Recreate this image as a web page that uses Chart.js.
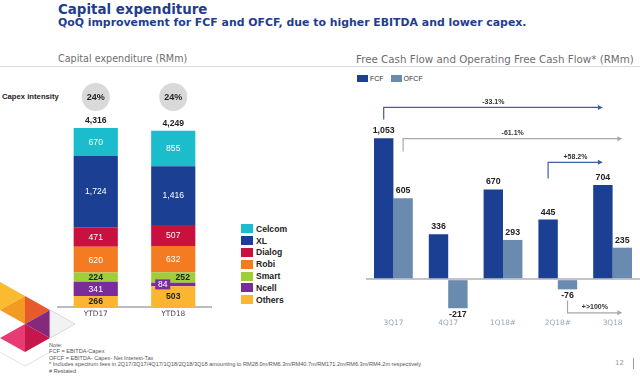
<!DOCTYPE html>
<html>
<head>
<meta charset="utf-8">
<script src="https://cdn.jsdelivr.net/npm/chart.js@4.4.0/dist/chart.umd.min.js"></script>
<style>
  body { margin: 0; width: 640px; height: 377px; position: relative; overflow: hidden; background: #fff; font-family: 'DejaVu Sans', sans-serif; }
  .abs { position: absolute; white-space: nowrap; }
  #title { left: 58px; top: 2px; font-size: 13.4px; line-height: 16px; font-weight: bold; color: #1f3d8f; }
  #subtitle { left: 58px; top: 16px; font-size: 10.9px; line-height: 13px; font-weight: bold; color: #1f3d8f; }
  .section { top: 53px; line-height: 12px; color: #6e6e6e; }
  #rule { left: 0; top: 66px; width: 640px; height: 1px; background: #d6dce4; }
  #intensityLbl { left: 2px; top: 92px; font-family: 'Liberation Sans', sans-serif; font-size: 7.7px; line-height: 10px; font-weight: bold; color: #222; }
  #capexLegend { left: 241px; top: 223px; font-family: 'Liberation Sans', sans-serif; font-size: 8.6px; font-weight: bold; color: #222; }
  #capexLegend div, #fcfLegend div { display: flex; align-items: center; }
  #capexLegend div { height: 11.8px; }
  #capexLegend span.sw { width: 12px; height: 9px; margin-right: 3px; display: inline-block; }
  #fcfLegend { left: 357px; top: 75px; font-family: 'Liberation Sans', sans-serif; font-size: 7px; color: #333; display: flex; }
  #fcfLegend span.sw { width: 11px; height: 7px; margin-right: 2px; display: inline-block; }
  #fcfLegend div { margin-right: 7px; }
  #notes { left: 49px; top: 342px; font-family: 'Liberation Sans', sans-serif; font-size: 5.6px; line-height: 6.4px; color: #555; }
  #page { left: 615px; top: 359px; font-size: 7px; color: #9a9a9a; }
  #pageBar { left: 633px; top: 358px; width: 1px; height: 11px; background: #9a9a9a; }
  canvas { position: absolute; }
</style>
</head>
<body>
<div id="title" class="abs">Capital expenditure</div>
<div id="subtitle" class="abs">QoQ improvement for FCF and OFCF, due to higher EBITDA and lower capex.</div>
<div class="abs section" style="left:58px;font-size:9.6px">Capital expenditure (RMm)</div>
<div class="abs section" style="left:356px;font-size:10.3px">Free Cash Flow and Operating Free Cash Flow* (RMm)</div>
<div id="rule" class="abs"></div>
<div id="intensityLbl" class="abs">Capex intensity</div>

<svg class="abs" style="left:0;top:255px" width="90" height="115" viewBox="0 255 90 115">
  <polygon points="0,282 25,296 0,310" fill="#fbbb31"/>
  <polygon points="0,310 25,296 25,324" fill="#f39a22"/>
  <polygon points="25,296 50,310 25,324" fill="#e65a2c"/>
  <polygon points="25,324 50,310 50,338" fill="#85297c"/>
  <polygon points="50,310 75,324 50,338" fill="#f2f2f2" stroke="#dadada" stroke-width="1"/>
  <polygon points="25,324 25,352 0,338" fill="#e83b73"/>
  <polygon points="25,324 50,338 25,352" fill="#c5174b"/>
  <polyline points="0,352 25,366 50,352" fill="none" stroke="#e2e2e2" stroke-width="1"/>
</svg>

<canvas id="capexChart" width="155" height="247" style="left:57px;top:80px"></canvas>
<div id="capexLegend" class="abs"></div>

<div id="fcfLegend" class="abs"></div>
<canvas id="fcfChart" width="274" height="243" style="left:366px;top:95px"></canvas>

<div id="notes" class="abs">Note:<br>FCF = EBITDA-Capex<br>OFCF = EBITDA- Capex- Net Interest-Tax<br>* Includes spectrum fees in 2Q17/3Q17/4Q17/1Q18/2Q18/3Q18 amounting to RM28.0m/RM6.3m/RM40.7m/RM171.2m/RM6.3m/RM4.2m respectively<br># Restated</div>
<div id="page" class="abs">12</div>
<div id="pageBar" class="abs"></div>

<script>
// Capex por opco (RMm)
const capexCats = ['YTD17', 'YTD18'];
const opcos = ['Celcom', 'XL', 'Dialog', 'Robi', 'Smart', 'Ncell', 'Others'];
const opcoColors = ['#1bbdcc', '#1b3f93', '#c8113f', '#f47b21', '#a0cd3a', '#7a2c9c', '#fbb533'];
const celcom = [670, 855];
const xl = [1724, 1416];
const dialog = [471, 507];
const robi = [620, 632];
const smart = [224, 252];
const ncell = [341, 84];
const others = [266, 503];
const capexTotal = [4316, 4249];
const capexIntensity = ['24%', '24%'];

// FCF / OFCF (RMm)
const fcfCats = ['3Q17', '4Q17', '1Q18#', '2Q18#', '3Q18'];
const fcf = [1053, 336, 670, 445, 704];
const ofcf = [605, -217, 293, -76, 235];
const fcfColors = ['#1b3f93', '#6a8bb0'];

// flechas de variacion: [categoria, serie]
const arrows = [
    { from: [0, 0], to: [4, 0], start: 1193, level: 1282, label: '-33.1%', color: '#3d5fa8' },
    { from: [0, 1], to: [4, 1], start: 953, level: 1049, label: '-61.1%', color: '#a8a8a8' },
    { from: [3, 0], to: [4, 0], start: 752, level: 872, label: '+58.2%', color: '#3d5fa8' },
    { from: [3, 1], to: [4, 1], start: -159, level: -251, label: '+>100%', color: '#a8a8a8' }
];

Chart.defaults.font.family = "'DejaVu Sans', sans-serif";
Chart.defaults.animation = false;

const NUM_FONT = "'Liberation Sans', sans-serif";
const fmt = v => v.toLocaleString('en-US');
const darkText = ['Smart', 'Others'];
const labelShift = { 'Smart-1': 9.5, 'Ncell-1': -10.5 };

// leyendas html
const seriesByName = { Celcom: celcom, XL: xl, Dialog: dialog, Robi: robi, Smart: smart, Ncell: ncell, Others: others };
document.getElementById('capexLegend').innerHTML = opcos.map((n, i) =>
    `<div><span class="sw" style="background:${opcoColors[i]}"></span>${n}</div>`).join('');
document.getElementById('fcfLegend').innerHTML = ['FCF', 'OFCF'].map((n, i) =>
    `<div><span class="sw" style="background:${fcfColors[i]}"></span>${n}</div>`).join('');

const capexLabels = {
    id: 'capexLabels',
    afterDatasetsDraw(chart) {
        const ctx = chart.ctx;
        ctx.save();
        ctx.textAlign = 'center';
        ctx.textBaseline = 'middle';
        chart.data.datasets.forEach((ds, d) => {
            chart.getDatasetMeta(d).data.forEach((bar, i) => {
                const v = ds.data[i];
                const dark = darkText.includes(ds.label);
                const x = bar.x + (labelShift[ds.label + '-' + i] || 0);
                const y = (bar.y + bar.base) / 2;
                if (v < 150) {
                    ctx.fillStyle = ds.backgroundColor;
                    ctx.fillRect(x - 7.5, y - 5, 15, 10);
                }
                ctx.font = (dark ? 'bold ' : '') + '8.6px ' + NUM_FONT;
                ctx.fillStyle = dark ? '#1e1e1e' : '#ffffff';
                ctx.fillText(fmt(v), x, y + 0.5);
            });
        });
        const topMeta = chart.getDatasetMeta(chart.data.datasets.length - 1);
        topMeta.data.forEach((bar, i) => {
            ctx.font = 'bold 8.6px ' + NUM_FONT;
            ctx.fillStyle = '#1e1e1e';
            ctx.textBaseline = 'bottom';
            ctx.fillText(fmt(capexTotal[i]), bar.x, bar.y - 3);
            ctx.beginPath();
            ctx.arc(bar.x, 17, 14, 0, Math.PI * 2);
            ctx.fillStyle = '#d9d9d9';
            ctx.fill();
            ctx.fillStyle = '#1e1e1e';
            ctx.textBaseline = 'middle';
            ctx.font = 'bold 9px ' + NUM_FONT;
            ctx.fillText(capexIntensity[i], bar.x, 17.5);
        });
        ctx.restore();
    }
};

const stackOrder = opcos.slice().reverse();
new Chart(document.getElementById('capexChart'), {
    type: 'bar',
    data: {
        labels: capexCats,
        datasets: stackOrder.map(n => ({
            label: n,
            data: seriesByName[n],
            backgroundColor: opcoColors[opcos.indexOf(n)],
            borderWidth: 0
        }))
    },
    options: {
        responsive: false,
        layout: { padding: 0 },
        datasets: { bar: { categoryPercentage: 1, barPercentage: 0.57 } },
        plugins: { legend: { display: false }, tooltip: { enabled: false } },
        scales: {
            x: {
                stacked: true,
                grid: { display: false, drawTicks: false },
                border: { color: '#bcbcbc', width: 2 },
                ticks: { color: '#4a4a4a', font: { size: 7.4 }, padding: 3 },
                afterFit: s => { s.height = 20; }
            },
            y: { stacked: true, display: false, min: 0, max: 5474 }
        }
    },
    plugins: [capexLabels]
});

const fcfLabels = {
    id: 'fcfLabels',
    afterDatasetsDraw(chart) {
        const ctx = chart.ctx;
        const yScale = chart.scales.y;
        ctx.save();
        ctx.textAlign = 'center';
        chart.data.datasets.forEach((ds, d) => {
            chart.getDatasetMeta(d).data.forEach((bar, i) => {
                const v = ds.data[i];
                ctx.font = 'bold 8.8px ' + NUM_FONT;
                ctx.fillStyle = '#222';
                if (v >= 0) {
                    ctx.textBaseline = 'bottom';
                    ctx.fillText(fmt(v), bar.x, bar.y - 3);
                } else {
                    ctx.textBaseline = 'top';
                    ctx.fillText(fmt(v), bar.x, bar.y + 1.5);
                }
            });
        });
        arrows.forEach(a => {
            const x0 = chart.getDatasetMeta(a.from[1]).data[a.from[0]].x;
            const x1 = chart.getDatasetMeta(a.to[1]).data[a.to[0]].x;
            const y0 = yScale.getPixelForValue(a.start);
            const y1 = yScale.getPixelForValue(a.level);
            ctx.strokeStyle = a.color;
            ctx.fillStyle = a.color;
            ctx.lineWidth = 1.2;
            ctx.beginPath();
            ctx.moveTo(x0, y0);
            ctx.lineTo(x0, y1);
            ctx.lineTo(x1 - 4, y1);
            ctx.stroke();
            ctx.beginPath();
            ctx.moveTo(x1, y1);
            ctx.lineTo(x1 - 5, y1 - 2.5);
            ctx.lineTo(x1 - 5, y1 + 2.5);
            ctx.closePath();
            ctx.fill();
            ctx.fillStyle = '#333';
            ctx.font = 'bold 7px ' + NUM_FONT;
            ctx.textBaseline = 'bottom';
            ctx.fillText(a.label, (x0 + x1) / 2, y1 - 2);
        });
        ctx.restore();
    }
};

new Chart(document.getElementById('fcfChart'), {
    type: 'bar',
    data: {
        labels: fcfCats,
        datasets: [
            { label: 'FCF', data: fcf, backgroundColor: fcfColors[0], borderWidth: 0 },
            { label: 'OFCF', data: ofcf, backgroundColor: fcfColors[1], borderWidth: 0 }
        ]
    },
    options: {
        responsive: false,
        layout: { padding: 0 },
        datasets: { bar: { categoryPercentage: 0.708, barPercentage: 1 } },
        plugins: { legend: { display: false }, tooltip: { enabled: false } },
        scales: {
            x: {
                grid: { display: false, drawTicks: false },
                border: { display: false },
                ticks: { color: '#98a3b6', font: { size: 7.4 }, padding: 5 },
                afterFit: s => { s.height = 24; }
            },
            y: {
                min: -260,
                max: 1375,
                ticks: { display: false },
                border: { display: false },
                grid: { drawTicks: false, color: '#c4c4c4', lineWidth: 2 },
                afterBuildTicks: s => { s.ticks = [{ value: 0 }]; },
                afterFit: s => { s.width = 0; }
            }
        }
    },
    plugins: [fcfLabels]
});
</script>
</body>
</html>
